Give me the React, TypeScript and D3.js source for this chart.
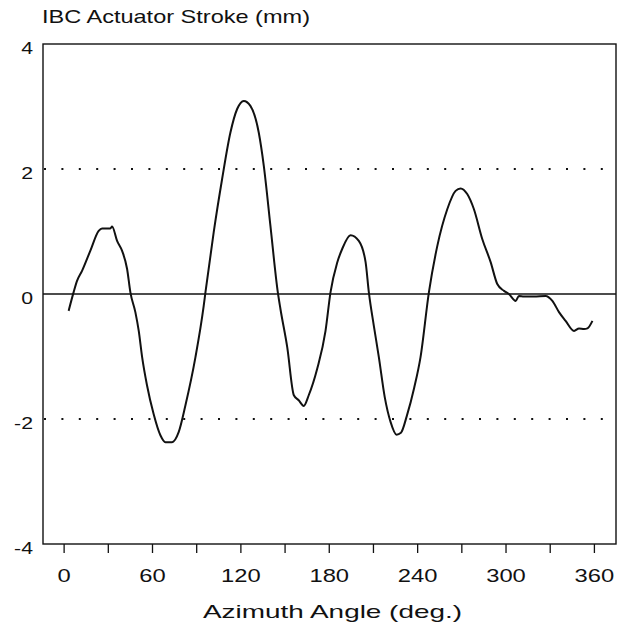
import React, { useRef, useEffect } from "react";
import { select, scaleLinear, axisBottom, axisLeft, line, curveMonotoneX, range } from "d3";

// azimuth angle (deg) and IBC actuator stroke (mm)
const angle = [
  3.4, 6.8, 9.1, 12.5, 18.1, 23.8, 26.1, 31.7, 32.9, 36.3, 39.7, 43.1, 45.3, 48.7,
  51, 53.3, 56.6, 61.1, 65.7, 69.1, 73.6, 78.1, 82.7, 89.5, 95.1, 96.3, 101.9,
  107.6, 113.2, 117.8, 122.3, 126.8, 132.5, 135.9, 140.4, 145.4, 147.2, 151.8,
  156.3, 159.6, 163, 166.4, 172.1, 177.8, 181.2, 185.7, 189.1, 194.8, 200.4, 205,
  207.2, 210.6, 214, 218, 222, 226, 229, 233, 238, 242.3, 248, 253.7, 260.5,
  266.1, 269.5, 274, 278.5, 284.2, 289.9, 294.4, 299, 302.3, 306.9, 309.1, 312.5,
  319.3, 327.2, 331.8, 336.3, 340.8, 346.5, 349.9, 353.3, 355.6, 359
];
const stroke = [
  -0.27, 0.03, 0.21, 0.37, 0.69, 1.01, 1.05, 1.05, 1.08, 0.85, 0.69, 0.4, 0.03, -0.29,
  -0.59, -1.01, -1.46, -1.92, -2.26, -2.37, -2.37, -2.21, -1.78, -1.01, -0.19, 0.03, 0.99,
  1.84, 2.58, 2.96, 3.09, 3.01, 2.58, 2.05, 1.09, 0.03, -0.24, -0.85,
  -1.62, -1.7, -1.79, -1.62, -1.2, -0.59, 0.03, 0.5, 0.72, 0.94, 0.85, 0.51,
  0.03, -0.51, -1.01, -1.65, -2.05, -2.25, -2.22, -1.95, -1.5, -1.01, 0.03, 0.77, 1.36,
  1.65, 1.69, 1.6, 1.36, 0.88, 0.51, 0.16, 0.05, 0, -0.11, -0.03, -0.04,
  -0.04, -0.03, -0.11, -0.29, -0.43, -0.59, -0.55, -0.56, -0.55, -0.43
];
const xTicks = range(0, 361, 30);
const yTicks = [-4, -2, 0, 2, 4];
const dottedLevels = [2, -2];

const title = "IBC Actuator Stroke (mm)";
const xTitle = "Azimuth Angle (deg.)";

const W = 624;
const H = 628;
const left = 43;
const right = 616;
const top = 44;
const bottom = 544;
const font = "'Liberation Sans', Arial, Helvetica, sans-serif";
const ink = "#111";

const App = () => {
  const svgRef = useRef(null);

  useEffect(() => {
    const svg = select(svgRef.current);

    const x = scaleLinear().domain([-14, 375]).range([left, right]);
    const y = scaleLinear().domain([-4, 4]).range([bottom, top]);

    // bottom axis: ticks every 30, labels every 60
    const xAxis = axisBottom(x)
      .tickValues(xTicks)
      .tickSize(9)
      .tickSizeOuter(0)
      .tickFormat(d => (d % 60 === 0 ? String(d) : ""));
    const gx = svg.select(".x-axis").attr("transform", `translate(0,${bottom})`).call(xAxis);
    gx.select(".domain").remove();
    gx.selectAll(".tick line").attr("stroke", ink).attr("stroke-width", 1.3);
    gx.selectAll(".tick text")
      .attr("y", 38)
      .attr("dy", null)
      .attr("transform", "scale(1.25,1)")
      .attr("fill", ink)
      .style("font-family", font)
      .style("font-size", "19px");

    // left axis: labels only
    const yAxis = axisLeft(y)
      .tickValues(yTicks)
      .tickSize(0)
      .tickPadding(10)
      .tickFormat(d => String(d));
    const gy = svg.select(".y-axis").attr("transform", `translate(${left},0)`).call(yAxis);
    gy.select(".domain").remove();
    gy.selectAll(".tick text")
      .attr("x", -8)
      .attr("dy", "0.55em")
      .attr("transform", "scale(1.25,1)")
      .attr("fill", ink)
      .style("font-family", font)
      .style("font-size", "17px");

    // reference lines
    svg.select(".grid")
      .selectAll("line")
      .data(dottedLevels)
      .join("line")
      .attr("x1", left + 1)
      .attr("x2", right)
      .attr("y1", d => y(d))
      .attr("y2", d => y(d))
      .attr("stroke", ink)
      .attr("stroke-width", 2)
      .attr("stroke-dasharray", "2 15.4");

    svg.select(".zero")
      .attr("x1", left)
      .attr("x2", right)
      .attr("y1", y(0))
      .attr("y2", y(0))
      .attr("stroke", ink)
      .attr("stroke-width", 1.4);

    // the stroke curve
    const pts = angle.map((a, i) => ({ x: a, y: stroke[i] }));
    const myLine = line()
      .x(d => x(d.x))
      .y(d => y(d.y))
      .curve(curveMonotoneX);
    svg.select(".line")
      .datum(pts)
      .attr("d", myLine)
      .attr("fill", "none")
      .attr("stroke", ink)
      .attr("stroke-width", 2)
      .attr("stroke-linejoin", "round");
  }, []);

  return (
    <svg
      ref={svgRef}
      width={W}
      height={H}
      style={{ position: "absolute", left: 0, top: 0, background: "#fff" }}
    >
      <rect x={left} y={top} width={right - left} height={bottom - top} fill="none" stroke={ink} strokeWidth={1.4} />
      <g className="grid" />
      <line className="zero" />
      <path className="line" />
      <g className="x-axis" />
      <g className="y-axis" />
      <text x={42} y={23} textLength={268} lengthAdjust="spacingAndGlyphs" fill={ink}
        style={{ fontFamily: font, fontSize: 19 }}>
        {title}
      </text>
      <text x={203} y={618} textLength={259} lengthAdjust="spacingAndGlyphs" fill={ink}
        style={{ fontFamily: font, fontSize: 19 }}>
        {xTitle}
      </text>
    </svg>
  );
};

export default App;
